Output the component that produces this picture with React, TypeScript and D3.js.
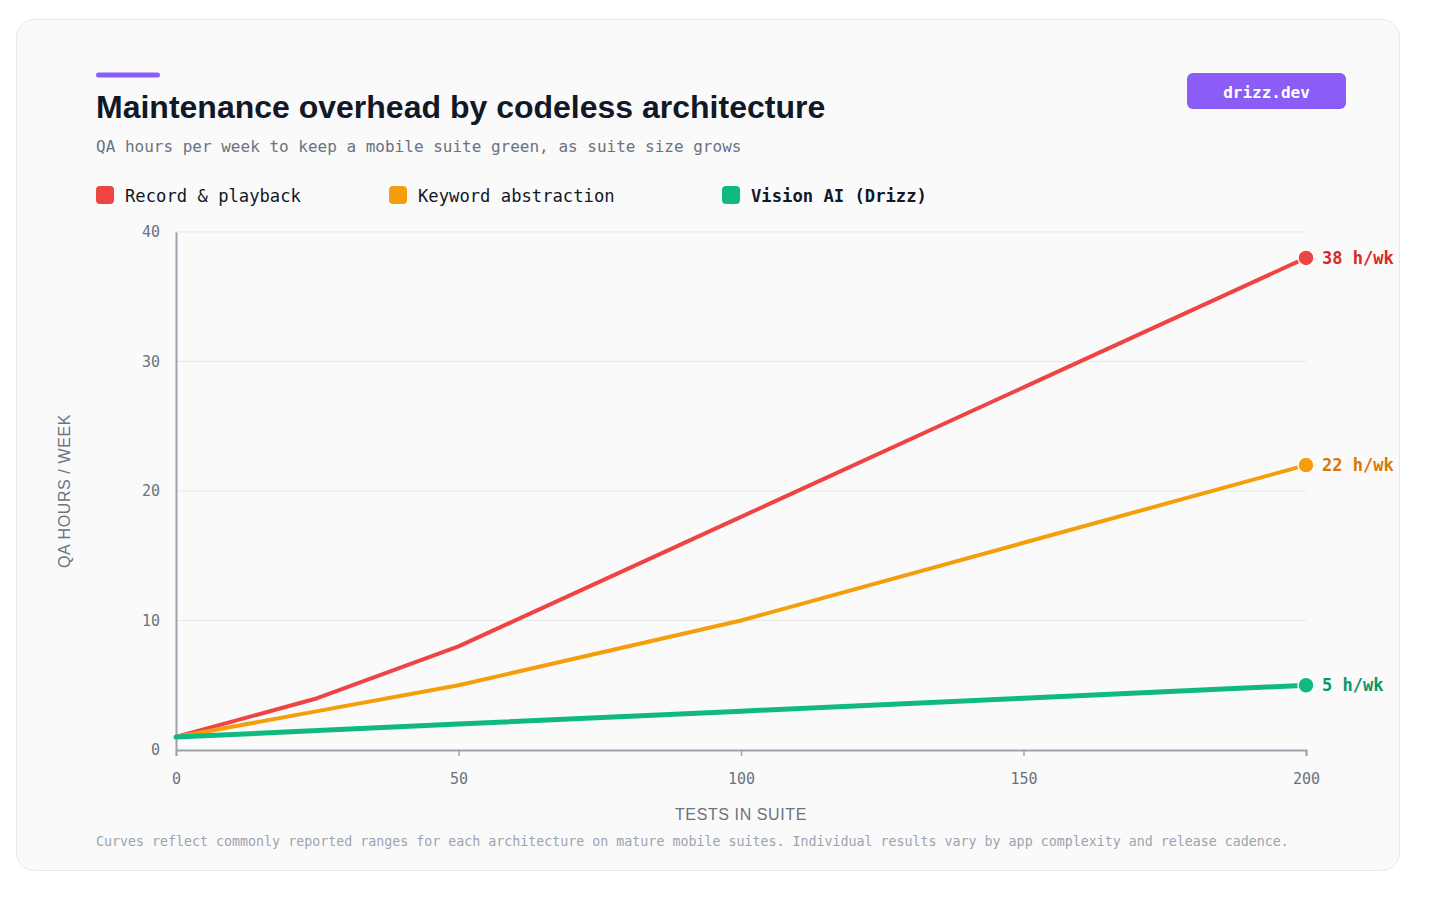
import React, { useEffect, useRef } from 'react';
import * as d3 from 'd3';

// Data
const testCounts = [0, 25, 50, 100, 150, 200];
const recordPlayback = [1, 4, 8, 18, 28, 38];
const keywordAbstraction = [1, 3, 5, 10, 16, 22];
const visionAI = [1, 1.5, 2, 3, 4, 5];

const seriesNames = ['Record & playback', 'Keyword abstraction', 'Vision AI (Drizz)'];
const seriesValues = [recordPlayback, keywordAbstraction, visionAI];
const seriesColors = ['#ef4444', '#f59e0b', '#10b981'];
const labelColors = ['#dc2626', '#d97706', '#059669'];

const xTicks = [0, 50, 100, 150, 200];
const yTicks = [0, 10, 20, 30, 40];

const MONO = '"DejaVu Sans Mono", "Liberation Mono", monospace';
const SANS = '"Liberation Sans", Arial, Helvetica, sans-serif';

export default function App() {
  const svgRef = useRef<SVGSVGElement>(null);

  useEffect(() => {
    if (!svgRef.current) return;
    const svg = d3.select(svgRef.current);
    svg.selectAll('*').remove();

    // Card
    svg.append('rect')
      .attr('x', 16.5).attr('y', 19.5)
      .attr('width', 1383).attr('height', 851)
      .attr('rx', 18)
      .attr('fill', '#fafafa')
      .attr('stroke', '#e5e7eb')
      .attr('stroke-width', 1);

    // Accent bar + title
    svg.append('rect')
      .attr('x', 96).attr('y', 72.5)
      .attr('width', 64).attr('height', 5)
      .attr('rx', 2.5)
      .attr('fill', '#8b5cf6');

    svg.append('text')
      .attr('x', 96).attr('y', 118)
      .attr('fill', '#111827')
      .attr('font-family', SANS)
      .attr('font-weight', 700)
      .attr('font-size', 32)
      .text('Maintenance overhead by codeless architecture');

    svg.append('text')
      .attr('x', 96).attr('y', 152)
      .attr('fill', '#6b7280')
      .attr('font-family', MONO)
      .attr('font-size', 16)
      .text('QA hours per week to keep a mobile suite green, as suite size grows');

    // Badge
    svg.append('rect')
      .attr('x', 1187).attr('y', 73)
      .attr('width', 159).attr('height', 36)
      .attr('rx', 6)
      .attr('fill', '#8b5cf6');
    svg.append('text')
      .attr('x', 1266.5).attr('y', 92)
      .attr('dy', '0.35em')
      .attr('text-anchor', 'middle')
      .attr('fill', '#ffffff')
      .attr('font-family', MONO)
      .attr('font-weight', 700)
      .attr('font-size', 16)
      .text('drizz.dev');

    // Legend
    const legendX = [96, 389, 722];
    seriesNames.forEach((name, i) => {
      svg.append('rect')
        .attr('x', legendX[i]).attr('y', 186)
        .attr('width', 18).attr('height', 18)
        .attr('rx', 4)
        .attr('fill', seriesColors[i]);
      svg.append('text')
        .attr('x', legendX[i] + 29).attr('y', 196)
        .attr('dy', '0.35em')
        .attr('fill', '#111827')
        .attr('font-family', MONO)
        .attr('font-weight', i === 2 ? 700 : 400)
        .attr('font-size', 17.2)
        .text(name);
    });

    // Plot area
    const left = 176, right = 1306, top = 232, bottom = 750;
    const x = d3.scaleLinear().domain([0, 200]).range([left, right]);
    const y = d3.scaleLinear().domain([0, 40]).range([bottom, top]);

    // Gridlines
    svg.append('g')
      .selectAll('line')
      .data(yTicks.filter(t => t > 0))
      .join('line')
      .attr('x1', left).attr('x2', right)
      .attr('y1', d => y(d)).attr('y2', d => y(d))
      .attr('stroke', '#e5e7eb')
      .attr('stroke-width', 1);

    // Y axis
    svg.append('g')
      .attr('transform', `translate(${left},0)`)
      .call(d3.axisLeft(y).tickValues(yTicks).tickSize(0).tickPadding(16))
      .call(g => g.select('.domain').attr('stroke', '#9ca3af').attr('stroke-width', 2))
      .call(g => g.selectAll('text')
        .attr('fill', '#6b7280')
        .attr('font-family', MONO)
        .attr('font-size', 15));

    // X axis
    svg.append('g')
      .attr('transform', `translate(0,${bottom})`)
      .call(d3.axisBottom(x).tickValues(xTicks).tickSize(6).tickSizeOuter(6).tickPadding(17))
      .call(g => g.select('.domain').attr('stroke', '#9ca3af').attr('stroke-width', 2))
      .call(g => g.selectAll('.tick line').attr('stroke', '#9ca3af').attr('stroke-width', 1.5))
      .call(g => g.selectAll('text')
        .attr('fill', '#6b7280')
        .attr('font-family', MONO)
        .attr('font-size', 15));

    // Axis titles
    svg.append('text')
      .attr('transform', `translate(70,${(top + bottom) / 2}) rotate(-90)`)
      .attr('text-anchor', 'middle')
      .attr('fill', '#6b7280')
      .attr('font-family', SANS)
      .attr('font-size', 16)
      .attr('letter-spacing', 0.6)
      .text('QA HOURS / WEEK');

    svg.append('text')
      .attr('x', (left + right) / 2).attr('y', 820)
      .attr('text-anchor', 'middle')
      .attr('fill', '#6b7280')
      .attr('font-family', SANS)
      .attr('font-size', 16)
      .attr('letter-spacing', 0.6)
      .text('TESTS IN SUITE');

    // Lines
    const line = d3.line<number>()
      .x((_, i) => x(testCounts[i]))
      .y(d => y(d));

    seriesValues.forEach((vals, i) => {
      svg.append('path')
        .datum(vals)
        .attr('d', line)
        .attr('fill', 'none')
        .attr('stroke', seriesColors[i])
        .attr('stroke-width', i === 2 ? 5 : 4)
        .attr('stroke-linejoin', 'round')
        .attr('stroke-linecap', 'round');
    });

    // End dots + labels
    seriesValues.forEach((vals, i) => {
      const last = vals[vals.length - 1];
      const cx = x(testCounts[testCounts.length - 1]);
      const cy = y(last);
      svg.append('circle')
        .attr('cx', cx).attr('cy', cy)
        .attr('r', 8)
        .attr('fill', seriesColors[i])
        .attr('stroke', '#ffffff')
        .attr('stroke-width', 1.5);
      svg.append('text')
        .attr('x', cx + 16).attr('y', cy)
        .attr('dy', '0.35em')
        .attr('fill', labelColors[i])
        .attr('font-family', MONO)
        .attr('font-weight', 700)
        .attr('font-size', 17)
        .text(`${last} h/wk`);
    });

    // Footnote
    svg.append('text')
      .attr('x', 96).attr('y', 846)
      .attr('fill', '#9ca3af')
      .attr('font-family', MONO)
      .attr('font-size', 13.3)
      .text('Curves reflect commonly reported ranges for each architecture on mature mobile suites. Individual results vary by app complexity and release cadence.');
  }, []);

  return (
    <div style={{ position: 'absolute', left: 0, top: 0, width: 1432, height: 898, background: '#ffffff' }}>
      <svg ref={svgRef} width={1432} height={898} style={{ display: 'block' }} />
    </div>
  );
}
